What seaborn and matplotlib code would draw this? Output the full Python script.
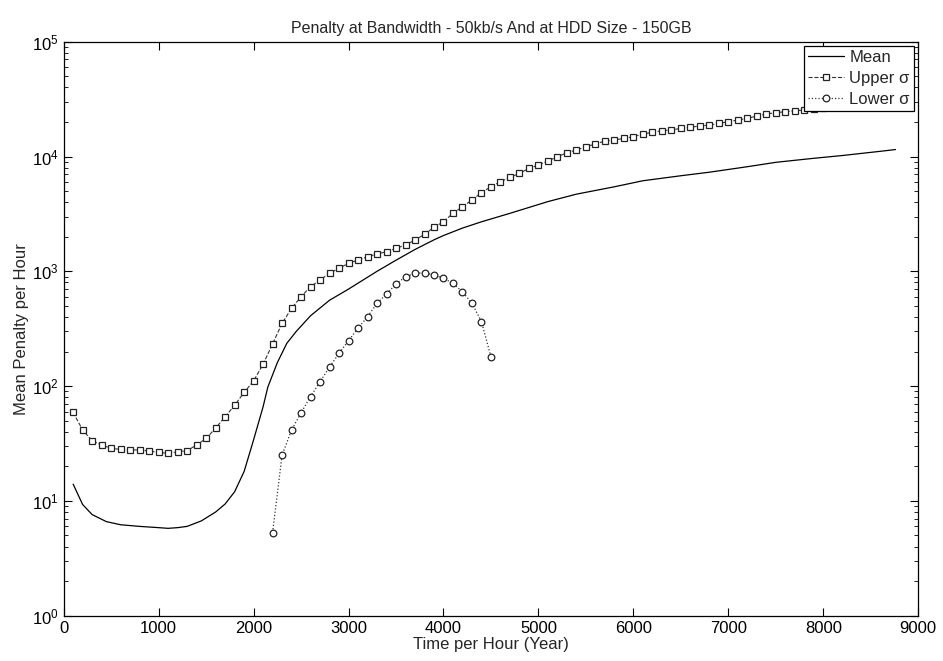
import matplotlib
matplotlib.use("Agg")
import matplotlib.pyplot as plt
import matplotlib.ticker as mticker
import seaborn as sns

# --- data ---
mean_x = [100, 200, 300, 450, 600, 800, 1000, 1100, 1200, 1300, 1450, 1600, 1700,
          1800, 1900, 2000, 2100, 2150, 2250, 2350, 2450, 2600, 2800, 3000, 3300,
          3500, 3700, 3900, 4000, 4200, 4400, 4700, 5100, 5400, 5800, 6100, 6500,
          6800, 7200, 7500, 7900, 8200, 8600, 8760]
mean_y = [14, 9.3, 7.6, 6.6, 6.2, 6.0, 5.85, 5.77, 5.85, 6.0, 6.7, 8.0, 9.4,
          12, 18, 34, 66, 98, 160, 236, 300, 410, 560, 700, 1000,
          1250, 1550, 1880, 2050, 2380, 2700, 3200, 4050, 4700, 5450, 6150, 6800,
          7300, 8150, 8900, 9650, 10200, 11100, 11500]

upper_x = [100, 200, 300, 400, 500, 600, 700, 800, 900, 1000, 1100, 1200, 1300,
           1400, 1500, 1600, 1700, 1800, 1900, 2000, 2100, 2200, 2300, 2400, 2500,
           2600, 2700, 2800, 2900, 3000, 3100, 3200, 3300, 3400, 3500, 3600, 3700,
           3800, 3900, 4000, 4100, 4200, 4300, 4400, 4500, 4600, 4700, 4800, 4900,
           5000, 5100, 5200, 5300, 5400, 5500, 5600, 5700, 5800, 5900, 6000, 6100,
           6200, 6300, 6400, 6500, 6600, 6700, 6800, 6900, 7000, 7100, 7200, 7300,
           7400, 7500, 7600, 7700, 7800, 7900, 8000, 8100, 8200, 8300, 8400, 8500,
           8600, 8700]
upper_y = [59, 41.5, 33.4, 30.7, 28.7, 28.1, 27.8, 27.8, 27.2, 26.5, 26.0, 26.8, 27.4,
           30.7, 35, 43, 54, 68, 88, 111, 155, 233, 352, 476, 601,
           735, 840, 961, 1062, 1175, 1254, 1340, 1415, 1482, 1585, 1695, 1874,
           2100, 2415, 2705, 3200, 3655, 4180, 4850, 5460, 6030, 6590, 7140, 7890,
           8430, 9140, 9960, 10790, 11400, 12170, 12850, 13650, 13930, 14400, 14880, 15710,
           16250, 16790, 17020, 17600, 18000, 18440, 18800, 19440, 20100, 20790, 21510, 22520,
           23440, 24080, 24560, 25050, 25410, 26000, 26600, 27200, 27800, 28400, 29000, 29600,
           30200, 30800]

lower_x = [2200, 2300, 2400, 2500, 2600, 2700, 2800, 2900, 3000, 3100, 3200, 3300,
           3400, 3500, 3600, 3700, 3800, 3900, 4000, 4100, 4200, 4300, 4400, 4500]
lower_y = [5.3, 25, 41.5, 58.6, 81, 109, 147, 193, 249, 319, 402, 527,
           634, 775, 897, 961, 972, 929, 869, 786, 664, 527, 364, 180]

sns.set_style("ticks")
plt.rcParams["font.family"] = ["Liberation Sans", "DejaVu Sans"]
plt.rcParams["mathtext.fontset"] = "custom"
plt.rcParams["mathtext.rm"] = "Liberation Sans"

fig = plt.figure(figsize=(9.43, 6.61), dpi=100)
ax = fig.add_axes([0.0675, 0.0685, 0.9063, 0.8684])

sns.lineplot(x=mean_x, y=mean_y, ax=ax, color="black", linewidth=0.9,
             label="Mean")
sns.lineplot(x=upper_x, y=upper_y, ax=ax, color="#333333", linewidth=0.8,
             linestyle="--", marker="s", markersize=4.3, markerfacecolor="white",
             markeredgecolor="#222222", markeredgewidth=0.9, label="Upper σ")
sns.lineplot(x=lower_x, y=lower_y, ax=ax, color="#333333", linewidth=0.9,
             linestyle=":", marker="o", markersize=4.8, markerfacecolor="white",
             markeredgecolor="#222222", markeredgewidth=0.9, label="Lower σ")

ax.set_yscale("log")
ax.set_xlim(0, 9000)
ax.set_ylim(1, 1e5)
ax.xaxis.set_major_locator(mticker.MultipleLocator(1000))
ax.yaxis.set_major_locator(mticker.LogLocator(base=10, numticks=10))
ax.yaxis.set_minor_locator(mticker.LogLocator(base=10, subs=range(2, 10), numticks=20))

ax.tick_params(which="both", direction="in", top=True, right=True,
               labelsize=12, colors="black")
ax.tick_params(which="major", length=6, width=0.8)
ax.tick_params(which="minor", length=3, width=0.6)
for side in ax.spines.values():
    side.set_color("black")
    side.set_linewidth(0.9)

ax.set_title("Penalty at Bandwidth - 50kb/s And at HDD Size - 150GB", fontsize=11.5, pad=6)
ax.set_xlabel("Time per Hour (Year)", fontsize=12, labelpad=1)
ax.set_ylabel("Mean Penalty per Hour", fontsize=12, labelpad=2)

leg = ax.legend(loc="upper right", fontsize=12, frameon=True, fancybox=False,
                edgecolor="black", framealpha=1, borderaxespad=0.25,
                handlelength=2.2, handletextpad=0.3, labelspacing=0.35,
                borderpad=0.25)
leg.get_frame().set_linewidth(0.9)

fig.savefig("out.png", dpi=100)
